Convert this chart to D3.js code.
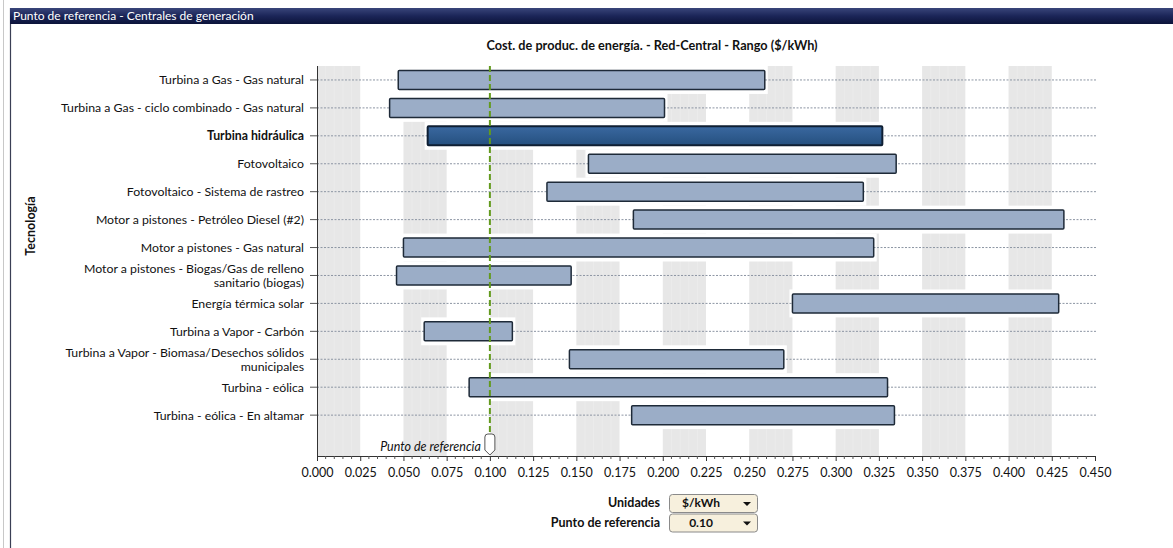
<!DOCTYPE html>
<html><head><meta charset="utf-8">
<script src="https://cdn.jsdelivr.net/npm/d3@7"></script>
<style>
html,body{margin:0;padding:0;background:#fff;}
svg{display:block;font-family:Lato,"Open Sans",sans-serif;}
</style></head>
<body>
<svg id="chart" width="1173" height="548"></svg>
<script>
// ---- data ----
const categories = [
  "Turbina a Gas - Gas natural",
  "Turbina a Gas - ciclo combinado - Gas natural",
  "Turbina hidráulica",
  "Fotovoltaico",
  "Fotovoltaico - Sistema de rastreo",
  "Motor a pistones - Petróleo Diesel (#2)",
  "Motor a pistones - Gas natural",
  "Motor a pistones - Biogas/Gas de relleno sanitario (biogas)",
  "Energía térmica solar",
  "Turbina a Vapor - Carbón",
  "Turbina a Vapor - Biomasa/Desechos sólidos municipales",
  "Turbina - eólica",
  "Turbina - eólica - En altamar"
];
const labelLines = [
  ["Turbina a Gas - Gas natural"],
  ["Turbina a Gas - ciclo combinado - Gas natural"],
  ["Turbina hidráulica"],
  ["Fotovoltaico"],
  ["Fotovoltaico - Sistema de rastreo"],
  ["Motor a pistones - Petróleo Diesel (#2)"],
  ["Motor a pistones - Gas natural"],
  ["Motor a pistones - Biogas/Gas de relleno", "sanitario (biogas)"],
  ["Energía térmica solar"],
  ["Turbina a Vapor - Carbón"],
  ["Turbina a Vapor - Biomasa/Desechos sólidos", "municipales"],
  ["Turbina - eólica"],
  ["Turbina - eólica - En altamar"]
];
const minValues = [0.047, 0.042, 0.064, 0.157, 0.133, 0.183, 0.050, 0.046, 0.275, 0.062, 0.146, 0.088, 0.182];
const maxValues = [0.259, 0.201, 0.327, 0.335, 0.316, 0.432, 0.322, 0.147, 0.429, 0.113, 0.270, 0.330, 0.334];
const highlighted = "Turbina hidráulica";
const referenceValue = 0.10;
const xTickValues = [0, 0.025, 0.05, 0.075, 0.1, 0.125, 0.15, 0.175, 0.2, 0.225, 0.25, 0.275, 0.3, 0.325, 0.35, 0.375, 0.4, 0.425, 0.45];
const stripeStarts = [0, 0.05, 0.1, 0.15, 0.2, 0.25, 0.3, 0.35, 0.4];
const windowTitle = "Punto de referencia - Centrales de generación";
const chartTitle = "Cost. de produc. de energía. - Red-Central - Rango  ($/kWh)";
const yTitle = "Tecnología";
const refLabel = "Punto de referencia";
const controls = [["Unidades", "$/kWh"], ["Punto de referencia", "0.10"]];

// ---- layout ----
const svg = d3.select("#chart");
const x = d3.scaleLinear().domain([0, 0.45]).range([317, 1095]);
const y = d3.scaleBand().domain(categories).range([66, 66 + 13 * 27.93]).paddingInner(0).paddingOuter(0);
const plotTop = 66, axisY = 456;

// window frame
svg.append("line").attr("x1", 3.5).attr("x2", 3.5).attr("y1", 0).attr("y2", 548).attr("stroke", "#c8c8c8");
svg.append("line").attr("x1", 10.5).attr("x2", 10.5).attr("y1", 8).attr("y2", 548).attr("stroke", "#3a3f55").attr("stroke-width", 1.2);
const defs = svg.append("defs");
const g1 = defs.append("linearGradient").attr("id", "tb").attr("x1", 0).attr("x2", 0).attr("y1", 0).attr("y2", 1);
g1.append("stop").attr("offset", "0").attr("stop-color", "#39457a");
g1.append("stop").attr("offset", "0.5").attr("stop-color", "#1b2558");
g1.append("stop").attr("offset", "1").attr("stop-color", "#0c133a");
svg.append("rect").attr("x", 10).attr("y", 8).attr("width", 1163).attr("height", 16).attr("fill", "url(#tb)");
svg.append("text").attr("x", 13).attr("y", 20).attr("fill", "#fff").attr("font-size", 12).attr("font-family", "Lato, sans-serif").text(windowTitle);

const gb = defs.append("linearGradient").attr("id", "hb").attr("x1", 0).attr("x2", 0).attr("y1", 0).attr("y2", 1);
gb.append("stop").attr("offset", "0").attr("stop-color", "#3a68a0");
gb.append("stop").attr("offset", "1").attr("stop-color", "#25507f");

// stripes
const stripeG = svg.append("g");
stripeStarts.forEach(s => {
  stripeG.append("rect").attr("x", x(s)).attr("y", plotTop).attr("width", x(s + 0.025) - x(s)).attr("height", axisY - plotTop).attr("fill", "#e7e7e7");
  for (let k = 1; k < 5; k++) {
    const v = s + k * 0.005;
    stripeG.append("line").attr("x1", x(v)).attr("x2", x(v)).attr("y1", plotTop).attr("y2", axisY).attr("stroke", "#ebebeb").attr("stroke-width", 1);
  }
});

// white halos behind bars
svg.append("g").selectAll("rect").data(categories).join("rect")
  .attr("x", (d, i) => x(minValues[i]) - 3)
  .attr("width", (d, i) => x(maxValues[i]) - x(minValues[i]) + 6)
  .attr("y", d => y(d))
  .attr("height", y.bandwidth())
  .attr("fill", "#fff");

// dotted grid lines
svg.append("g").selectAll("line").data(categories).join("line")
  .attr("x1", x(0)).attr("x2", 1097)
  .attr("y1", d => y(d) + y.bandwidth() / 2).attr("y2", d => y(d) + y.bandwidth() / 2)
  .attr("stroke", "#8c95a3").attr("stroke-width", 1).attr("stroke-dasharray", "2,1.5");

// bars
const barH = 19;
svg.append("g").selectAll("rect").data(categories).join("rect")
  .attr("x", (d, i) => x(minValues[i]))
  .attr("width", (d, i) => x(maxValues[i]) - x(minValues[i]))
  .attr("y", d => y(d) + y.bandwidth() / 2 - barH / 2)
  .attr("height", barH)
  .attr("rx", 1)
  .attr("fill", d => d === highlighted ? "url(#hb)" : "#9badc7")
  .attr("stroke", d => d === highlighted ? "#0f1f33" : "#1e2a38")
  .attr("stroke-width", d => d === highlighted ? 2 : 1.5);

// reference line
svg.append("line").attr("x1", x(referenceValue)).attr("x2", x(referenceValue))
  .attr("y1", plotTop).attr("y2", 433)
  .attr("stroke", "#639a1e").attr("stroke-width", 2).attr("stroke-dasharray", "6,3");

// y axis
svg.append("line").attr("x1", x(0) + 0.5).attr("x2", x(0) + 0.5).attr("y1", plotTop).attr("y2", axisY).attr("stroke", "#333");
const yAxisG = svg.append("g");
categories.forEach((c, i) => {
  const cy = y(c) + y.bandwidth() / 2;
  yAxisG.append("line").attr("x1", 310).attr("x2", 317).attr("y1", cy).attr("y2", cy).attr("stroke", "#555");
  const lines = labelLines[i];
  const t = yAxisG.append("text").attr("text-anchor", "end").attr("font-size", 12.3).attr("fill", "#111")
    .attr("font-weight", c === highlighted ? "bold" : "normal");
  lines.forEach((ln, j) => {
    const dy = lines.length === 1 ? 4.5 : (j === 0 ? -2.5 : 11.5);
    t.append("tspan").attr("x", 304).attr("y", cy + dy).text(ln);
  });
});

// x axis
const xAxis = d3.axisBottom(x).tickValues(xTickValues).tickFormat(d3.format(".3f")).tickSize(5).tickSizeOuter(0);
const xg = svg.append("g").attr("transform", `translate(0,${axisY})`).call(xAxis);
xg.select(".domain").attr("stroke", "#333");
xg.selectAll(".tick line").attr("stroke", "#333");
xg.selectAll(".tick text").attr("font-size", 12.5).attr("font-family", "Lato, sans-serif").attr("fill", "#111").attr("dy", "1.05em");
const minor = d3.range(0, 0.4501, 0.005).filter(v => Math.abs(v / 0.025 - Math.round(v / 0.025)) > 1e-6);
svg.append("g").selectAll("line").data(minor).join("line")
  .attr("x1", d => x(d)).attr("x2", d => x(d)).attr("y1", axisY).attr("y2", axisY + 3).attr("stroke", "#555");

// reference marker
const mx = x(referenceValue);
svg.append("path")
  .attr("d", `M${mx - 5},${450} L${mx - 5},${437} Q${mx - 5},${434} ${mx - 2},${434} L${mx + 2},${434} Q${mx + 5},${434} ${mx + 5},${437} L${mx + 5},${450} L${mx},${455} Z`)
  .attr("fill", "#fff").attr("stroke", "#555").attr("stroke-width", 1);
svg.append("text").attr("x", mx - 9).attr("y", 451).attr("text-anchor", "end").attr("font-style", "italic")
  .attr("font-size", 12.5).attr("fill", "#111").text(refLabel);

// titles
svg.append("text").attr("x", 652).attr("y", 50).attr("text-anchor", "middle").attr("font-weight", "bold")
  .attr("font-size", 12.7).attr("fill", "#111").text(chartTitle);
svg.append("text").attr("transform", "translate(35,226) rotate(-90)").attr("text-anchor", "middle")
  .attr("font-weight", "bold").attr("font-size", 12.5).attr("fill", "#111").text(yTitle);

// controls
controls.forEach((c, i) => {
  const top = 494 + i * 19.5;
  svg.append("text").attr("x", 660).attr("y", top + 13).attr("text-anchor", "end").attr("font-weight", "bold")
    .attr("font-size", 12.5).attr("fill", "#111").text(c[0]);
  svg.append("rect").attr("x", 669.5).attr("y", top + 0.5).attr("width", 88).attr("height", 18).attr("rx", 3)
    .attr("fill", "#f7f0dd").attr("stroke", "#8a8a8a");
  svg.append("text").attr("x", 701).attr("y", top + 13).attr("text-anchor", "middle").attr("font-weight", "bold")
    .attr("font-size", 12).attr("fill", "#111").text(c[1]);
  svg.append("path").attr("d", `M${743},${top + 8} L${751},${top + 8} L${747},${top + 12} Z`).attr("fill", "#111");
});
</script>
</body></html>
